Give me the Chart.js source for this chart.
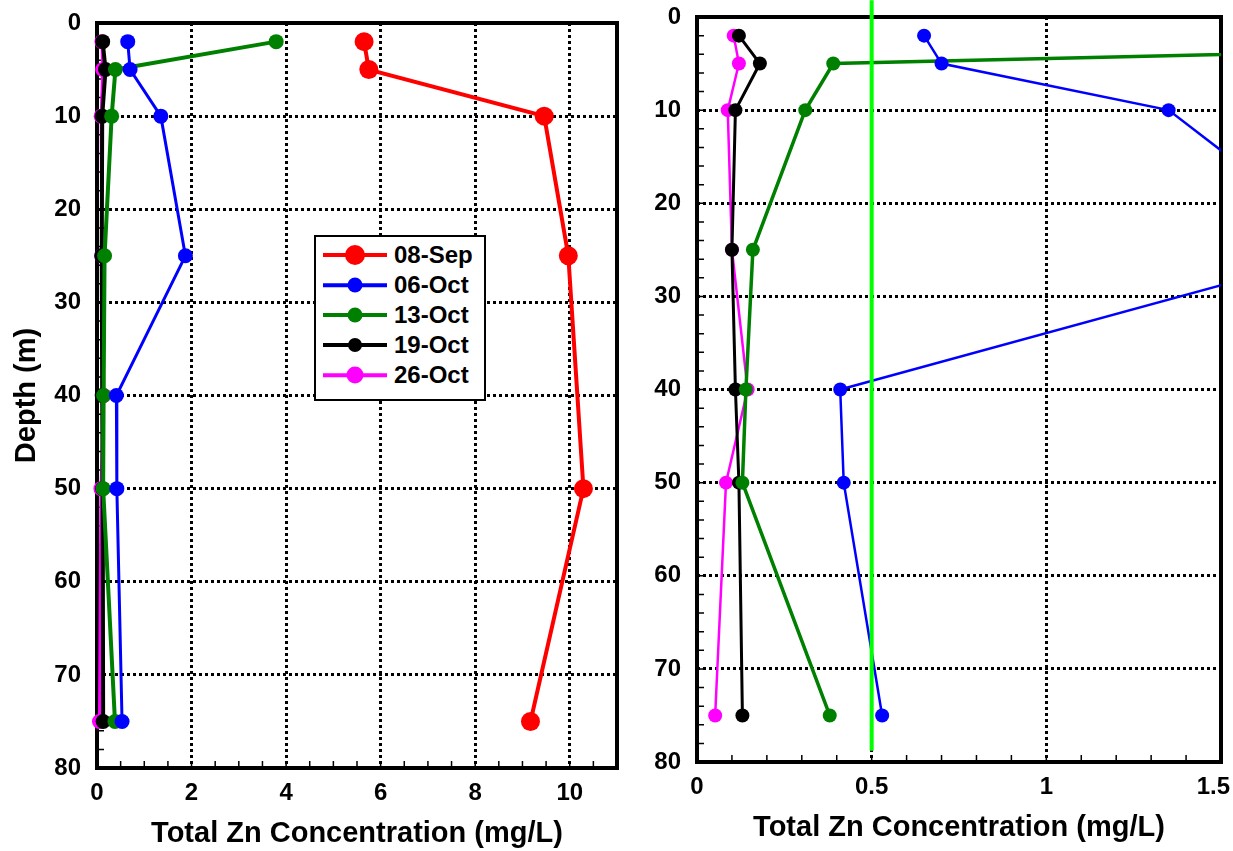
<!DOCTYPE html>
<html>
<head>
<meta charset="utf-8">
<title>Total Zn depth profiles</title>
<script src="https://cdn.jsdelivr.net/npm/chart.js@4.4.1/dist/chart.umd.min.js"></script>
<style>
  html, body { margin: 0; padding: 0; background: #fff; overflow: hidden; }
  #wrap { position: relative; width: 1233px; height: 851px; overflow: hidden; }
  .box { position: absolute; top: 0; height: 851px; }
  #leftBox { left: 0; width: 630px; }
  #rightBox { left: 620px; width: 613px; }
  #legend {
    position: absolute; left: 314px; top: 235px; width: 168px; height: 162px;
    border: 2px solid #000; background: #fff;
    font: bold 24px "Liberation Sans", Arial, sans-serif; color: #000;
  }
  .row { position: absolute; left: 7px; height: 30px; display: flex; align-items: center; }
  .sw { position: relative; width: 64px; height: 30px; margin-right: 7px; }
  .sw .ln { position: absolute; left: 0; right: 0; top: 50%; transform: translateY(-50%); }
  .sw .dot { position: absolute; top: 50%; left: 32px; border-radius: 50%; transform: translate(-50%, -50%); }
</style>
</head>
<body>
<div id="wrap">
  <div class="box" id="leftBox"><canvas id="zoneLeft"></canvas></div>
  <div class="box" id="rightBox"><canvas id="zoneRight"></canvas></div>
  <div id="legend"></div>
</div>
<script>
// sampling depths (m)
const depths = [2, 5, 10, 25, 40, 50, 75];

// total Zn (mg/L) per sampling date, aligned with depths (null = not sampled)
const sep08 = [5.65, 5.75, 9.46, 9.97, null, 10.29, 9.17];
const oct06 = [0.65, 0.70, 1.35, 1.87, 0.41, 0.42, 0.53];
const oct13 = [3.79, 0.39, 0.31, 0.16, 0.14, 0.13, 0.38];
const oct19 = [0.12, 0.18, 0.11, 0.10, 0.11, 0.12, 0.13];
const oct26 = [0.105, 0.12, 0.088, 0.10, 0.145, 0.083, 0.052];

const seriesNames = ['08-Sep', '06-Oct', '13-Oct', '19-Oct', '26-Oct'];
const seriesValues = [sep08, oct06, oct13, oct19, oct26];
const seriesColors = ['#ff0000', '#0000ff', '#008000', '#000000', '#ff00ff'];

// guideline value drawn on the zoomed panel
const limitValue = 0.5;
const limitDepths = [-1.8, 78.8];

const leftTicksX = { min: 0, max: 11, step: 2, minor: 0.5 };
const rightTicksX = { min: 0, max: 1.5, step: 0.5, minor: 0.1 };
const ticksY = { min: 0, max: 80, step: 10, minor: 2 };

const FONT = '"Liberation Sans", Arial, sans-serif';

const toPoints = (vals) => depths
    .map((d, i) => ({ x: vals[i], y: d }))
    .filter(p => p.x !== null);

// plot frame + small inside tick marks
const framePlugin = {
    id: 'frame',
    beforeDatasetsDraw(chart, args, opts) {
        const { ctx, chartArea: a, scales: { x, y } } = chart;
        ctx.save();
        ctx.strokeStyle = '#000';
        ctx.lineWidth = 1.5;
        ctx.beginPath();
        const nx = Math.round((x.max - x.min) / opts.xMinor);
        for (let i = 1; i < nx; i++) {
            const px = x.getPixelForValue(x.min + i * opts.xMinor);
            ctx.moveTo(px, a.bottom);
            ctx.lineTo(px, a.bottom - 7);
        }
        const ny = Math.round((y.max - y.min) / opts.yMinor);
        for (let i = 1; i < ny; i++) {
            const py = y.getPixelForValue(y.min + i * opts.yMinor);
            ctx.moveTo(a.left, py);
            ctx.lineTo(a.left + 7, py);
        }
        ctx.stroke();
        ctx.lineWidth = 4;
        ctx.strokeRect(a.left, a.top, a.right - a.left, a.bottom - a.top);
        ctx.restore();
    }
};

// x tick labels, kept inside the canvas at the right edge
const xLabelPlugin = {
    id: 'xLabels',
    afterDraw(chart) {
        const { ctx, chartArea: a, scales: { x }, width } = chart;
        ctx.save();
        ctx.font = 'bold 24px ' + FONT;
        ctx.fillStyle = '#000';
        ctx.textAlign = 'center';
        ctx.textBaseline = 'middle';
        x.ticks.forEach(t => {
            const label = String(t.value);
            const half = ctx.measureText(label).width / 2;
            const px = Math.min(x.getPixelForValue(t.value), width - half - 3);
            ctx.fillText(label, px, a.bottom + 25);
        });
        ctx.restore();
    }
};

function makeOptions(xt, pad, axisW, axisH, titleBottom, showYTitle) {
    return {
        responsive: true,
        maintainAspectRatio: false,
        animation: false,
        layout: { padding: pad },
        plugins: {
            legend: { display: false },
            tooltip: { enabled: true },
            frame: { xMinor: xt.minor, yMinor: ticksY.minor }
        },
        scales: {
            x: {
                type: 'linear',
                min: xt.min, max: xt.max,
                afterFit: (s) => { s.height = axisH; s.paddingLeft = 0; s.paddingRight = 0; },
                ticks: { stepSize: xt.step, includeBounds: false, display: false },
                grid: { color: '#000', lineWidth: 3, drawTicks: false },
                border: { display: false, dash: [3, 3] },
                title: {
                    display: true, text: 'Total Zn Concentration (mg/L)', color: '#000',
                    font: { family: FONT, size: 29, weight: 'bold' }, padding: { top: 0, bottom: titleBottom }
                }
            },
            y: {
                type: 'linear',
                reverse: true,
                min: ticksY.min, max: ticksY.max,
                afterFit: (s) => { s.width = axisW; s.paddingTop = 0; s.paddingBottom = 0; },
                ticks: {
                    stepSize: ticksY.step, padding: 16,
                    color: '#000', font: { family: FONT, size: 24, weight: 'bold' }
                },
                grid: { color: '#000', lineWidth: 3, drawTicks: false },
                border: { display: false, dash: [3, 3] },
                title: {
                    display: showYTitle, text: 'Depth (m)', color: '#000',
                    font: { family: FONT, size: 29, weight: 'bold' }, padding: { top: 10, bottom: 0 }
                }
            }
        }
    };
}

// left panel: full range
const leftSizes = [{ r: 9.5, w: 4 }, { r: 7.5, w: 3 }, { r: 7.5, w: 4 }, { r: 7.5, w: 4 }, { r: 7.5, w: 3 }];
new Chart(document.getElementById('zoneLeft'), {
    type: 'scatter',
    data: {
        datasets: seriesValues.map((vals, i) => ({
            label: seriesNames[i],
            data: toPoints(vals),
            showLine: true,
            borderColor: seriesColors[i],
            backgroundColor: seriesColors[i],
            borderWidth: leftSizes[i].w,
            pointRadius: leftSizes[i].r,
            pointBorderWidth: 0,
            pointHoverRadius: leftSizes[i].r,
            clip: false
        }))
    },
    options: makeOptions(leftTicksX, { top: 23, right: 13, bottom: 0, left: 0 }, 97, 83, 0, true),
    plugins: [framePlugin, xLabelPlugin]
});

// right panel: zoom on low concentrations with the guideline
const rightSizes = [{ r: 7, w: 2.5 }, { r: 7, w: 2.5 }, { r: 7, w: 3.5 }, { r: 7, w: 3 }, { r: 7, w: 2.5 }];
new Chart(document.getElementById('zoneRight'), {
    type: 'scatter',
    data: {
        datasets: [{
            label: 'Guideline',
            data: limitDepths.map(d => ({ x: limitValue, y: d })),
            showLine: true,
            borderColor: '#00ff00',
            borderWidth: 4,
            pointRadius: 0,
            clip: false
        }].concat(seriesValues.map((vals, i) => ({
            label: seriesNames[i],
            data: toPoints(vals),
            showLine: true,
            borderColor: seriesColors[i],
            backgroundColor: seriesColors[i],
            borderWidth: rightSizes[i].w,
            pointRadius: rightSizes[i].r,
            pointBorderWidth: 0,
            pointHoverRadius: rightSizes[i].r
        })))
    },
    options: makeOptions(rightTicksX, { top: 17, right: 12, bottom: 0, left: 0 }, 77, 89, 6, false),
    plugins: [framePlugin, xLabelPlugin]
});

// legend box drawn inside the left panel
const legendEl = document.getElementById('legend');
const legendDots = [10, 7.5, 7.5, 7, 8.5];
const legendLines = [4, 3.5, 4, 4, 3.5];
seriesNames.forEach((name, i) => {
    const row = document.createElement('div');
    row.className = 'row';
    row.style.top = (3 + i * 30) + 'px';
    row.innerHTML =
        '<div class="sw"><div class="ln" style="height:' + legendLines[i] + 'px;background:' + seriesColors[i] + '"></div>' +
        '<div class="dot" style="width:' + 2 * legendDots[i] + 'px;height:' + 2 * legendDots[i] + 'px;background:' + seriesColors[i] + '"></div></div>' +
        '<span>' + name + '</span>';
    legendEl.appendChild(row);
});
</script>
</body>
</html>
